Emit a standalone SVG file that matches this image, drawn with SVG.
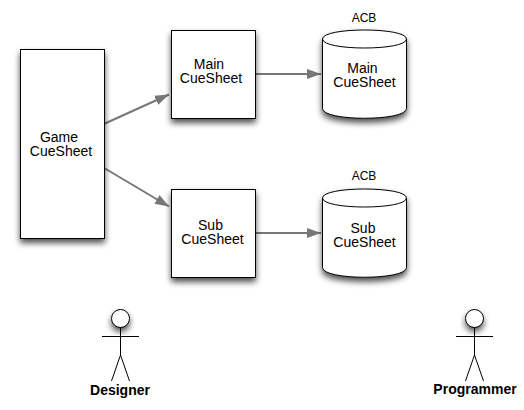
<svg xmlns="http://www.w3.org/2000/svg" width="524" height="410" viewBox="0 0 524 410">
<style>
text{font-family:"Liberation Sans",Arial,sans-serif;font-size:14px;fill:#000;text-anchor:middle}
.b{font-weight:bold;font-size:14px}
.n{font-size:12px}
.s{fill:#fff;stroke:#000;stroke-width:1}
.f{fill:#fff;stroke:#000;stroke-width:1}
.l{fill:none;stroke:#000;stroke-width:1}
.c{stroke:#777;stroke-width:2;fill:none;marker-end:url(#a)}
</style>
<defs>
<filter id="sh" x="-30%" y="-30%" width="160%" height="170%"><feGaussianBlur in="SourceAlpha" stdDeviation="3"/><feOffset dy="4"/><feComponentTransfer><feFuncA type="linear" slope="0.7"/></feComponentTransfer><feMerge><feMergeNode/><feMergeNode in="SourceGraphic"/></feMerge></filter>
<marker id="a" markerUnits="userSpaceOnUse" markerWidth="16" markerHeight="14" refX="14" refY="6" orient="auto"><path d="M0 1L14 6L0 11Z" fill="#777"/></marker>
</defs>
<g id="connectors">
<path class="c" d="M105 123.500L169 94.500"/>
<path class="c" d="M105 168.500L169 206.500"/>
<path class="c" d="M256 74L321 74"/>
<path class="c" d="M256 233L321 233"/>
</g>
<g id="game"><rect class="s" filter="url(#sh)" x="20.500" y="49.500" width="84" height="189"/><text><tspan x="59" y="142">Game</tspan><tspan x="61" y="156">CueSheet</tspan></text></g>
<g id="main"><rect class="s" filter="url(#sh)" x="171.500" y="30.500" width="84" height="88"/><text><tspan x="209" y="69">Main</tspan><tspan x="211" y="83">CueSheet</tspan></text></g>
<g id="sub"><rect class="s" filter="url(#sh)" x="171.500" y="189.500" width="84" height="88"/><text><tspan x="210.500" y="230">Sub</tspan><tspan x="212.500" y="244">CueSheet</tspan></text></g>
<g id="acb-main"><path class="f" filter="url(#sh)" d="M322.500 39C322.500 27 406.500 27 406.500 39V108.500C406.500 121.500 322.500 121.500 322.500 108.500Z"/><path class="l" d="M322.500 39C322.500 51 406.500 51 406.500 39"/><text class="n" x="364" y="22">ACB</text><text><tspan x="362.500" y="73">Main</tspan><tspan x="364.500" y="87">CueSheet</tspan></text></g>
<g id="acb-sub"><path class="f" filter="url(#sh)" d="M322.500 198C322.500 186 406.500 186 406.500 198V267.500C406.500 280.500 322.500 280.500 322.500 267.500Z"/><path class="l" d="M322.500 198C322.500 210 406.500 210 406.500 198"/><text class="n" x="364" y="180">ACB</text><text><tspan x="363" y="233">Sub</tspan><tspan x="364.500" y="247">CueSheet</tspan></text></g>
<g id="designer"><circle class="f" filter="url(#sh)" cx="120.500" cy="318.500" r="9"/><path class="l" d="M120.500 327.500V355M102 336.500H139M120.500 355L111.500 381M120.500 355L129.500 381"/><text class="b" x="120" y="395">Designer</text></g>
<g id="programmer"><circle class="f" filter="url(#sh)" cx="474.500" cy="318.500" r="9"/><path class="l" d="M474.500 327.500V355M456 336.500H493M474.500 355L465.500 381M474.500 355L483.500 381"/><text class="b" x="475" y="394">Programmer</text></g>
</svg>
